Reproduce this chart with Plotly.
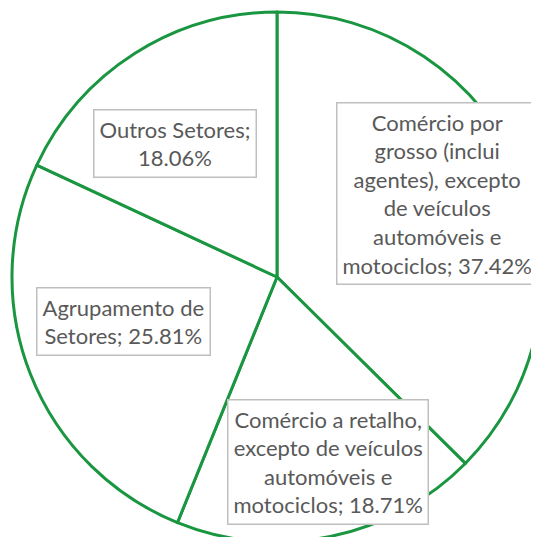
import plotly.graph_objects as go

categories = [
    "Comércio por grosso (inclui agentes), excepto de veículos automóveis e motociclos",
    "Comércio a retalho, excepto de veículos automóveis e motociclos",
    "Agrupamento de Setores",
    "Outros Setores",
]
values = [37.42, 18.71, 25.81, 18.06]
display_labels = [
    "Comércio por<br>grosso (inclui<br>agentes), excepto<br>de veículos<br>automóveis e<br>motociclos",
    "Comércio a retalho,<br>excepto de veículos<br>automóveis e<br>motociclos",
    "Agrupamento de<br>Setores",
    "Outros Setores;",
]

W, H = 539, 537
OFF = 8  # page offset of the plot div
GREEN = "#1a9641"

cx0, cy0, R = 277 - OFF, 277 - OFF, 265
fig = go.Figure(go.Pie(
    labels=categories,
    values=values,
    sort=False,
    direction="clockwise",
    rotation=0,
    textinfo="none",
    hoverinfo="label+percent",
    marker=dict(colors=["white"] * len(values), line=dict(color=GREEN, width=3)),
    domain=dict(x=[(cx0 - R) / W, (cx0 + R) / W],
                y=[1 - (cy0 + R) / H, 1 - (cy0 - R) / H]),
    showlegend=False,
))

# label box centres (pixels from top-left of the screenshot)
centres = [(437, 193), (328, 462), (123, 321), (175, 144)]
anns = []
for lab, v, (cx, cy) in zip(display_labels, values, centres):
    sep = "<br>" if lab.endswith(";") else "; "
    txt = f"{lab}{sep}{v:.2f}%"
    anns.append(dict(
        x=(cx - OFF) / W, y=1 - (cy - OFF) / H, xref="paper", yref="paper",
        text=txt, showarrow=False, align="center",
        font=dict(family="Lato", size=22, color="#595959"),
        bgcolor="white", bordercolor="#bfbfbf", borderwidth=1.5, borderpad=5,
        xanchor="center", yanchor="middle",
    ))

fig.update_layout(
    width=W, height=H,
    margin=dict(l=0, r=0, t=0, b=0),
    paper_bgcolor="white",
    annotations=anns,
)
fig.write_html("out.html")
